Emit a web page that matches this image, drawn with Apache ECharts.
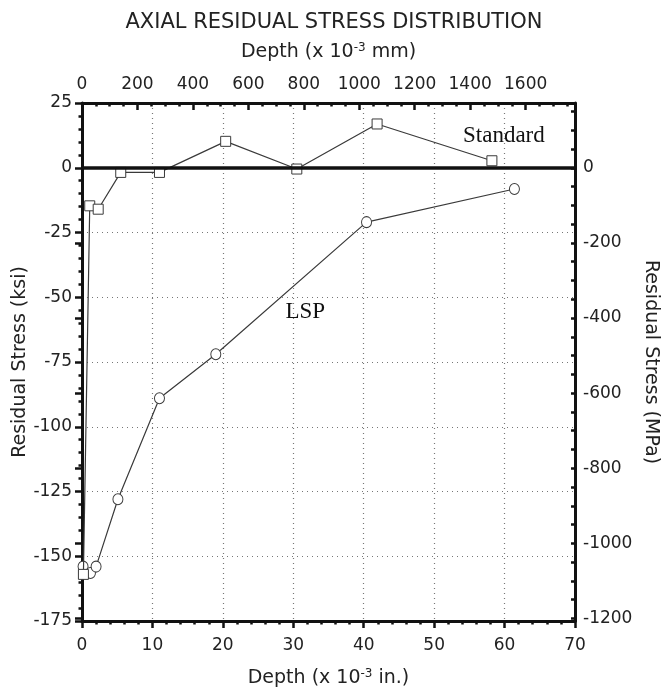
<!DOCTYPE html>
<html>
<head>
<meta charset="utf-8">
<script src="https://cdn.jsdelivr.net/npm/echarts@6/dist/echarts.min.js"></script>
<style>
  html, body { margin: 0; padding: 0; background: #fff; }
  #main { width: 668px; height: 690px; }
</style>
</head>
<body>
<div id="main"></div>
<script>
// depth in 10^-3 in., stress in ksi
var standardPts = [[0.2, -157], [1.1, -14.7], [2.3, -16], [5.5, -1.8], [11.0, -1.8],
                   [20.4, 10.2], [30.5, -0.5], [41.9, 16.9], [58.2, 2.7]];
var lspPts = [[0.15, -154], [1.2, -156.5], [2.0, -154], [5.1, -128], [11.0, -89],
              [19.0, -72], [40.4, -21], [61.4, -8.2]];

var mpaLabels = [0, -200, -400, -600, -800, -1000, -1200];
var mpaMinor = [];
for (var v = 150; v >= -1200; v -= 50) mpaMinor.push(v);

var IN2MM = 25.4, KSI2MPA = 6.894757;
var xMin = 0, xMax = 70, yMin = -175, yMax = 25;

var font = 'DejaVu Sans, Liberation Sans, sans-serif';
var serif = 'Liberation Serif, Times New Roman, serif';
var black = '#111';
var txt = '#222';

function plain(v) { return String(Math.round(v)); }

var chart = echarts.init(document.getElementById('main'));

var supRich = { sup: { fontFamily: font, fontSize: 12, color: txt, verticalAlign: 'bottom', padding: [0, 0, 9, 0] } };

var option = {
    animation: false,
    title: {
        text: 'AXIAL RESIDUAL STRESS DISTRIBUTION',
        left: 'center',
        top: 7,
        textStyle: { fontFamily: font, fontSize: 21, fontWeight: 'normal', color: txt }
    },
    grid: { left: 82, right: 93, top: 103, bottom: 69, outerBoundsMode: 'none', containLabel: false },
    xAxis: [
        {
            type: 'value', position: 'bottom',
            min: xMin, max: xMax, interval: 10,
            name: 'Depth (x 10{sup|-3} in.)',
            nameLocation: 'middle', nameGap: 47, nameMoveOverlap: false,
            nameTextStyle: { fontFamily: font, fontSize: 19, color: txt, rich: supRich },
            axisLine: { show: true, onZero: false, lineStyle: { color: black, width: 3 } },
            axisTick: { show: true, inside: false, length: 7, lineStyle: { color: black, width: 2.5 } },
            minorTick: { show: true, splitNumber: 5, length: 3.5, lineStyle: { color: black, width: 2.5 } },
            axisLabel: { fontFamily: font, fontSize: 17, color: txt, margin: 16, formatter: plain },
            splitLine: { show: true, lineStyle: { color: '#777', type: [1, 4], width: 1.2 } }
        },
        {
            type: 'value', position: 'top',
            min: xMin * IN2MM, max: xMax * IN2MM, interval: 200,
            name: 'Depth (x 10{sup|-3} mm)',
            nameLocation: 'middle', nameGap: 40, nameMoveOverlap: false,
            nameTextStyle: { fontFamily: font, fontSize: 19, color: txt, rich: supRich },
            axisLine: { show: true, onZero: false, lineStyle: { color: black, width: 3 } },
            axisTick: { show: true, inside: true, length: 7, lineStyle: { color: black, width: 2.5 } },
            minorTick: { show: true, splitNumber: 4, length: 3.5, lineStyle: { color: black, width: 2.5 } },
            axisLabel: { fontFamily: font, fontSize: 17, color: txt, margin: 10, showMaxLabel: false, formatter: plain },
            splitLine: { show: false }
        }
    ],
    yAxis: [
        {
            type: 'value', position: 'left',
            min: yMin, max: yMax, interval: 25,
            name: 'Residual Stress (ksi)',
            nameLocation: 'middle', nameGap: 52, nameRotate: 90, nameMoveOverlap: false,
            nameTextStyle: { fontFamily: font, fontSize: 19, color: txt },
            axisLine: { show: true, onZero: false, lineStyle: { color: black, width: 3 } },
            axisTick: { show: true, inside: false, length: 7, lineStyle: { color: black, width: 2.5 } },
            minorTick: { show: true, splitNumber: 5, length: 3.5, lineStyle: { color: black, width: 2.5 } },
            axisLabel: { fontFamily: font, fontSize: 17, color: txt, margin: 10, formatter: plain },
            splitLine: { show: true, lineStyle: { color: '#777', type: [1, 4], width: 1.2 } }
        },
        {
            type: 'value', position: 'right',
            min: yMin * KSI2MPA, max: yMax * KSI2MPA,
            name: 'Residual Stress (MPa)',
            nameLocation: 'middle', nameGap: 66, nameRotate: -90, nameMoveOverlap: false,
            nameTextStyle: { fontFamily: font, fontSize: 19, color: txt },
            axisLine: { show: true, onZero: false, lineStyle: { color: black, width: 3 } },
            axisTick: { show: true, inside: true, length: 4, customValues: mpaMinor, lineStyle: { color: black, width: 2.5 } },
            axisLabel: { fontFamily: font, fontSize: 17, color: txt, margin: 8, customValues: mpaLabels, formatter: plain },
            splitLine: { show: false }
        },
        {
            type: 'value', position: 'right',
            min: yMin * KSI2MPA, max: yMax * KSI2MPA,
            axisLine: { show: false },
            axisTick: { show: true, inside: true, length: 7, customValues: mpaLabels, lineStyle: { color: black, width: 2.5 } },
            axisLabel: { show: false },
            splitLine: { show: false }
        }
    ],
    series: [
        {
            name: 'LSP', type: 'line', xAxisIndex: 0, yAxisIndex: 0,
            data: lspPts, z: 3,
            symbol: 'circle', symbolSize: [10, 11], showAllSymbol: true,
            lineStyle: { color: '#3a3a3a', width: 1.2 },
            itemStyle: { color: '#fff', borderColor: '#3a3a3a', borderWidth: 1 },
            markLine: {
                silent: true, symbol: 'none', label: { show: false },
                lineStyle: { color: black, width: 3.5, type: 'solid' },
                data: [{ yAxis: 0 }]
            },
            markPoint: {
                symbol: 'circle', symbolSize: 0,
                label: { show: true, position: 'inside', formatter: 'LSP', fontFamily: serif, fontSize: 23, color: '#111' },
                data: [{ coord: [31.7, -55.6] }]
            }
        },
        {
            name: 'Standard', type: 'line', xAxisIndex: 0, yAxisIndex: 0,
            data: standardPts, z: 4,
            symbol: 'rect', symbolSize: [10, 10], showAllSymbol: true,
            lineStyle: { color: '#3a3a3a', width: 1.2 },
            itemStyle: { color: '#fff', borderColor: '#3a3a3a', borderWidth: 1 },
            markPoint: {
                symbol: 'circle', symbolSize: 0,
                label: { show: true, position: 'inside', formatter: 'Standard', fontFamily: serif, fontSize: 23, color: '#111' },
                data: [{ coord: [59.9, 12.2] }]
            }
        }
    ]
};

chart.setOption(option);
</script>
</body>
</html>
